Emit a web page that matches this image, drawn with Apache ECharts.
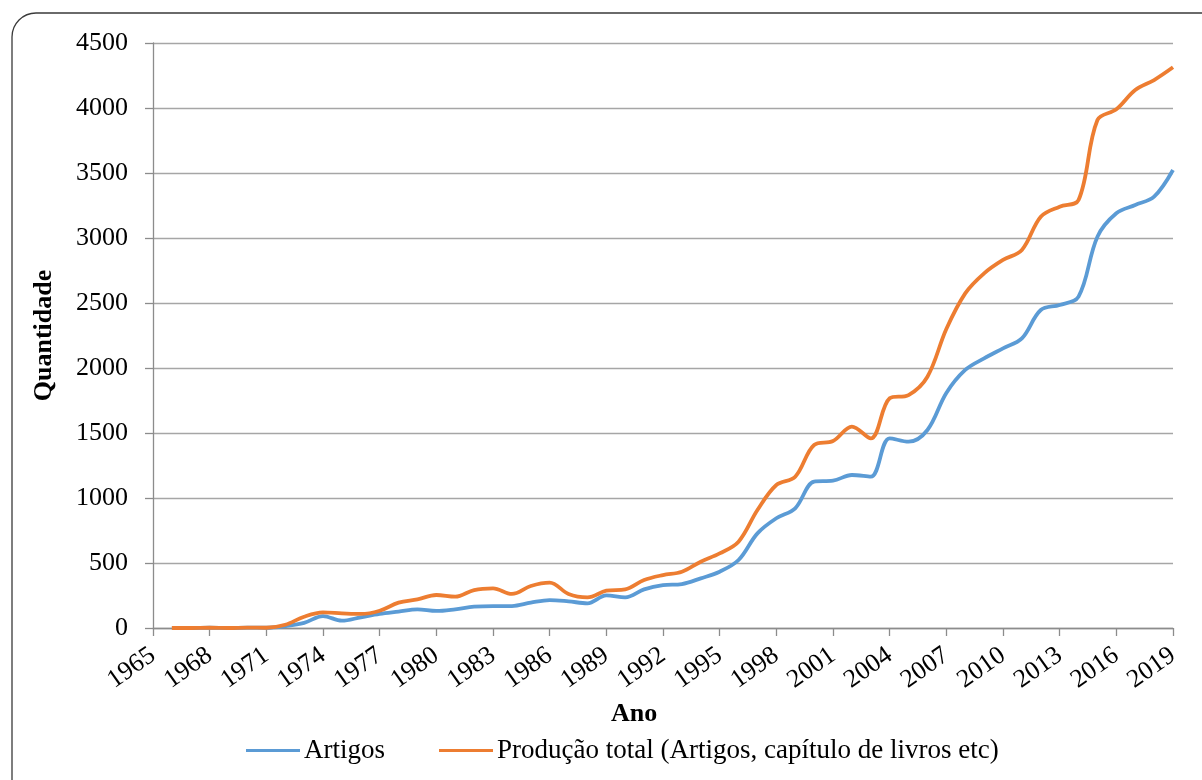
<!DOCTYPE html>
<html>
<head>
<meta charset="utf-8">
<script src="https://cdn.jsdelivr.net/npm/echarts@6/dist/echarts.min.js"></script>
<style>html,body{margin:0;padding:0;background:#fff}#c{width:1202px;height:780px}</style>
</head>
<body>
<div id="c"></div>
<script>
var years = [];
for (var y = 1965; y <= 2019; y++) years.push(String(y));

var artigos = [null, 0, 0, 2, 0, 3, 2, 15, 40, 92, 56, 82, 108, 126, 144, 131, 144, 164, 169, 169, 195, 215, 205, 190, 251, 236, 297, 330, 338, 382, 433, 523, 728, 844, 921, 1126, 1133, 1177, 1164, 1459, 1433, 1523, 1808, 1985, 2074, 2151, 2228, 2446, 2485, 2549, 3010, 3190, 3254, 3318, 3523];

var producaoTotal = [null, 0, 0, 2, 0, 3, 2, 25, 87, 120, 113, 108, 133, 195, 220, 254, 241, 292, 305, 262, 323, 349, 262, 236, 287, 297, 369, 407, 433, 510, 574, 664, 908, 1100, 1164, 1408, 1438, 1549, 1459, 1767, 1792, 1933, 2300, 2574, 2728, 2831, 2908, 3164, 3241, 3292, 3908, 3990, 4138, 4215, 4313];

var seriesNames = ['Artigos', 'Produção total (Artigos, capítulo de livros etc)'];

var serif = '"Liberation Serif", "DejaVu Serif", serif';
var chart = echarts.init(document.getElementById('c'), null, {renderer: 'canvas'});
chart.setOption({
  animation: false,
  backgroundColor: '#fff',
  color: ['#5B9BD5', '#ED7D31'],
  graphic: [
    {type: 'rect', shape: {x: 12, y: 13, width: 1260, height: 850, r: 24},
     style: {fill: 'none', stroke: '#3a3a3a', lineWidth: 1.3}, silent: true, z: 0},
    {type: 'text', left: 611, top: 701,
     style: {text: 'Ano', font: 'bold 26px ' + serif, fill: '#000'}}
  ],
  grid: {left: 153, right: 29, top: 43, bottom: 152, containLabel: false},
  legend: {
    left: 246, top: 737, padding: 0,
    icon: 'rect', itemWidth: 54, itemHeight: 3, itemGap: 54,
    textStyle: {fontFamily: serif, fontSize: 27, color: '#000', padding: [0, 0, 0, -1]},
    data: seriesNames
  },
  xAxis: {
    type: 'category', data: years, boundaryGap: false,
    axisLine: {lineStyle: {color: '#8c8c8c', width: 1.3}},
    axisTick: {interval: 2, length: 8, lineStyle: {color: '#8c8c8c', width: 1.3}},
    axisLabel: {interval: 2, rotate: 35, margin: 25, fontFamily: serif, fontSize: 26, color: '#000'},
    splitLine: {show: false}
  },
  yAxis: {
    type: 'value', min: 0, max: 4500, interval: 500,
    name: 'Quantidade', nameLocation: 'middle', nameGap: 96, nameRotate: 90,
    nameTextStyle: {fontFamily: serif, fontSize: 26, fontWeight: 'bold', color: '#000'},
    axisLine: {show: true, lineStyle: {color: '#8c8c8c', width: 1.3}},
    axisTick: {show: true, length: 8, lineStyle: {color: '#8c8c8c', width: 1.3}},
    axisLabel: {margin: 25, fontFamily: serif, fontSize: 26, color: '#000',
                formatter: function (v) { return String(v); }},
    splitLine: {lineStyle: {color: '#a6a6a6', width: 1.3}}
  },
  series: [
    {name: seriesNames[0], type: 'line', data: artigos, smooth: 0.35, showSymbol: false,
     lineStyle: {width: 3.8, color: '#5B9BD5'}, itemStyle: {color: '#5B9BD5'}},
    {name: seriesNames[1], type: 'line', data: producaoTotal, smooth: 0.35, showSymbol: false,
     lineStyle: {width: 3.8, color: '#ED7D31'}, itemStyle: {color: '#ED7D31'}}
  ]
});
</script>
</body>
</html>
